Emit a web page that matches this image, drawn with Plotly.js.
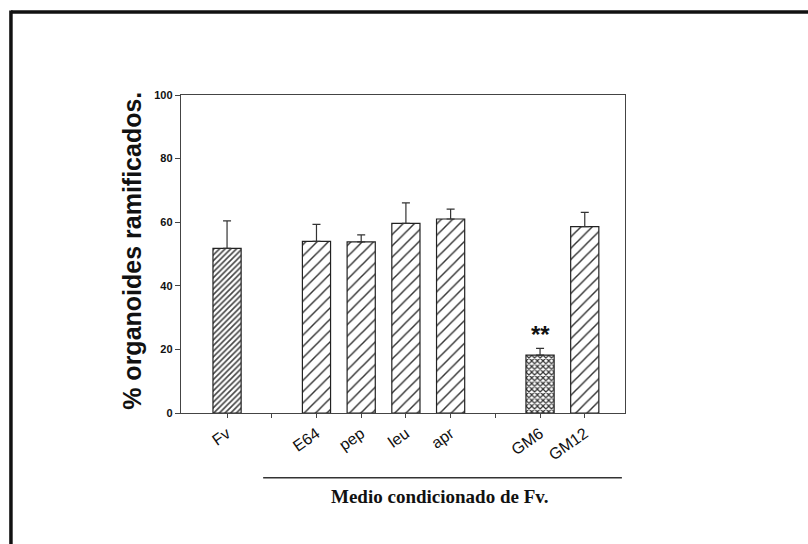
<!DOCTYPE html>
<html>
<head>
<meta charset="utf-8">
<script src="https://cdn.plot.ly/plotly-3.0.1.min.js"></script>
<style>
html,body{margin:0;padding:0;background:#fff;}
#chart{width:808px;height:544px;}
</style>
</head>
<body>
<div id="chart"></div>
<script>
// ---- data ----
const categories = ['Fv', 'E64', 'pep', 'leu', 'apr', 'GM6', 'GM12'];
const axisSlots = ['Fv', 'gapA', 'E64', 'pep', 'leu', 'apr', 'gapB', 'GM6', 'GM12'];
const axisLabels = ['Fv', '', 'E64', 'pep', 'leu', 'apr', '', 'GM6', 'GM12'];
const means = [51.8, 54.0, 53.8, 59.6, 61.0, 18.2, 58.6];
const errUp = [8.6, 5.3, 2.2, 6.5, 3.1, 2.1, 4.5];
const yTicks = [0, 20, 40, 60, 80, 100];
const significance = {category: 'GM6', text: '**'};
const groupLabel = 'Medio condicionado de Fv.';
const yTitle = '% organoides ramificados.';

// ---- styles ----
const patShape = ['/', '/', '/', '/', '/', 'x', '/'];
const patSize = [4, 8, 8, 8, 8, 4, 8];
const patSolid = [0.4, 0.18, 0.18, 0.18, 0.18, 0.5, 0.18];
const patFg = ['#444', '#333', '#333', '#333', '#333', '#333', '#333'];

const idx = categories.indexOf(significance.category);

const trace = {
  type: 'bar',
  x: categories,
  y: means,
  width: 0.63,
  marker: {
    color: '#fff',
    line: {color: '#222', width: 1.2},
    pattern: {shape: patShape, size: patSize, solidity: patSolid, fgcolor: patFg, bgcolor: '#fff', fillmode: 'replace'}
  },
  error_y: {type: 'data', symmetric: false, array: errUp, arrayminus: means.map(() => 0),
            color: '#333', thickness: 1.2, width: 4},
  hoverinfo: 'skip'
};

const layout = {
  width: 808, height: 544,
  margin: {l: 181, r: 183, t: 95, b: 131},
  paper_bgcolor: '#fff', plot_bgcolor: '#fff',
  showlegend: false,
  xaxis: {
    type: 'category', categoryorder: 'array', categoryarray: axisSlots,
    tickvals: axisSlots, ticktext: axisLabels,
    range: [-1.03, 8.9],
    showline: true, mirror: true, linecolor: '#444', linewidth: 1.2,
    ticks: 'outside', ticklen: 4, tickcolor: '#444',
    tickangle: -35,
    tickfont: {family: 'Liberation Sans, Arial', size: 16, color: '#111'},
    showgrid: false, zeroline: false
  },
  yaxis: {
    range: [0, 100], tickvals: yTicks,
    showline: true, mirror: true, linecolor: '#444', linewidth: 1.2,
    ticks: 'outside', ticklen: 5, tickcolor: '#444',
    tickfont: {family: 'Liberation Sans, Arial', size: 11, color: '#111', weight: 'bold'},
    showgrid: false, zeroline: false
  },
  annotations: [
    {xref: 'paper', yref: 'paper', x: 0, y: 0.51, xshift: -49, xanchor: 'center', yanchor: 'middle',
     textangle: -90, showarrow: false, text: '<b>' + yTitle + '</b>',
     font: {family: 'Liberation Sans, Arial', size: 25, color: '#111'}},
    {xref: 'x', yref: 'y', x: significance.category, y: means[idx] + errUp[idx], yanchor: 'bottom', yshift: -2,
     showarrow: false, text: '<b>' + significance.text + '</b>',
     font: {family: 'Liberation Sans, Arial', size: 24, color: '#111'}},
    {xref: 'paper', yref: 'paper', x: 0.583, y: -0.264, xanchor: 'center', yanchor: 'middle',
     showarrow: false, text: '<b>' + groupLabel + '</b>',
     font: {family: 'Liberation Serif, Times New Roman', size: 19, color: '#111'}}
  ],
  shapes: [
    {type: 'line', xref: 'paper', yref: 'paper', x0: 0.185, x1: 0.993, y0: -0.204, y1: -0.204,
     line: {color: '#333', width: 1.5}},
    {type: 'line', xref: 'paper', yref: 'paper', x0: -0.383, x1: 1.42, y0: 1.261, y1: 1.261,
     line: {color: '#111', width: 3.5}},
    {type: 'line', xref: 'paper', yref: 'paper', x0: -0.383, x1: -0.383, y0: 1.266, y1: -0.42,
     line: {color: '#111', width: 3.5}}
  ]
};

Plotly.newPlot('chart', [trace], layout, {staticPlot: true, displayModeBar: false});
</script>
</body>
</html>
